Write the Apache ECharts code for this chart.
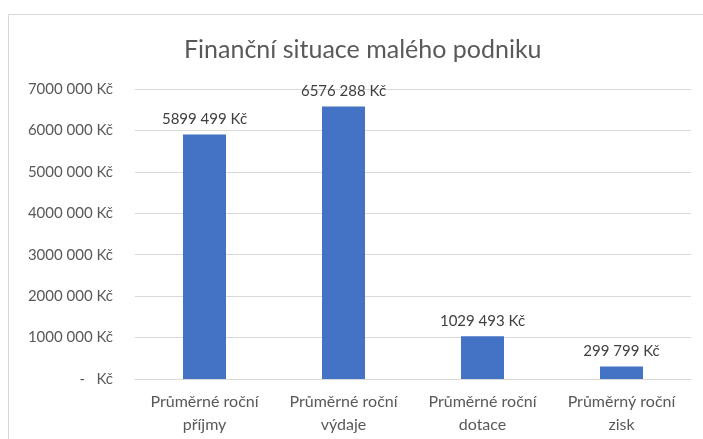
<!DOCTYPE html>
<html>
<head>
<meta charset="utf-8">
<script src="https://cdn.jsdelivr.net/npm/echarts@6/dist/echarts.min.js"></script>
<style>
  html, body { margin: 0; padding: 0; background: #fff; }
  #chart-container { width: 703px; height: 439px; }
</style>
</head>
<body>
<div id="chart-container"></div>
<script>
const categories = ['Průměrné roční\npříjmy', 'Průměrné roční\nvýdaje', 'Průměrné roční\ndotace', 'Průměrný roční\nzisk'];
const values = [5899499, 6576288, 1029493, 299799];

// Excel style: "5899 499 Kč"
function formatKc(n) {
  if (n === 0) return '-   Kč';
  const head = Math.floor(n / 1000);
  const tail = String(n % 1000).padStart(3, '0');
  return (head > 0 ? head + ' ' + tail : String(n % 1000)) + ' Kč';
}

const myChart = echarts.init(document.getElementById('chart-container'));
const font = 'Lato';

myChart.setOption({
  animation: false,
  textStyle: { fontFamily: font },
  title: {
    text: 'Finanční situace malého podniku',
    left: 179,
    top: 32,
    textStyle: { fontFamily: font, fontSize: 25, fontWeight: 'normal', color: '#595959' }
  },
  graphic: [{
    type: 'rect',
    shape: { x: 8.5, y: 14.5, width: 720, height: 450 },
    style: { fill: 'none', stroke: '#d9d9d9', lineWidth: 1 },
    silent: true
  }],
  grid: { left: 135, right: 12, top: 89, bottom: 60 },
  xAxis: {
    type: 'category',
    data: categories,
    axisLine: { lineStyle: { color: '#d9d9d9' } },
    axisTick: { show: false },
    axisLabel: { interval: 0, hideOverlap: false, color: '#595959', fontSize: 16, lineHeight: 23, margin: 11, fontFamily: font }
  },
  yAxis: {
    type: 'value',
    min: 0,
    max: 7000000,
    interval: 1000000,
    axisLine: { show: false },
    axisTick: { show: false },
    splitLine: { lineStyle: { color: '#d9d9d9' } },
    axisLabel: { color: '#595959', fontSize: 15, margin: 22, fontFamily: font, formatter: formatKc }
  },
  series: [{
    type: 'bar',
    data: values,
    barWidth: 43,
    itemStyle: { color: '#4472c4' },
    label: {
      show: true,
      position: 'top',
      distance: 8,
      color: '#404040',
      fontSize: 15,
      fontFamily: font,
      formatter: p => formatKc(p.value)
    }
  }]
});
</script>
</body>
</html>
